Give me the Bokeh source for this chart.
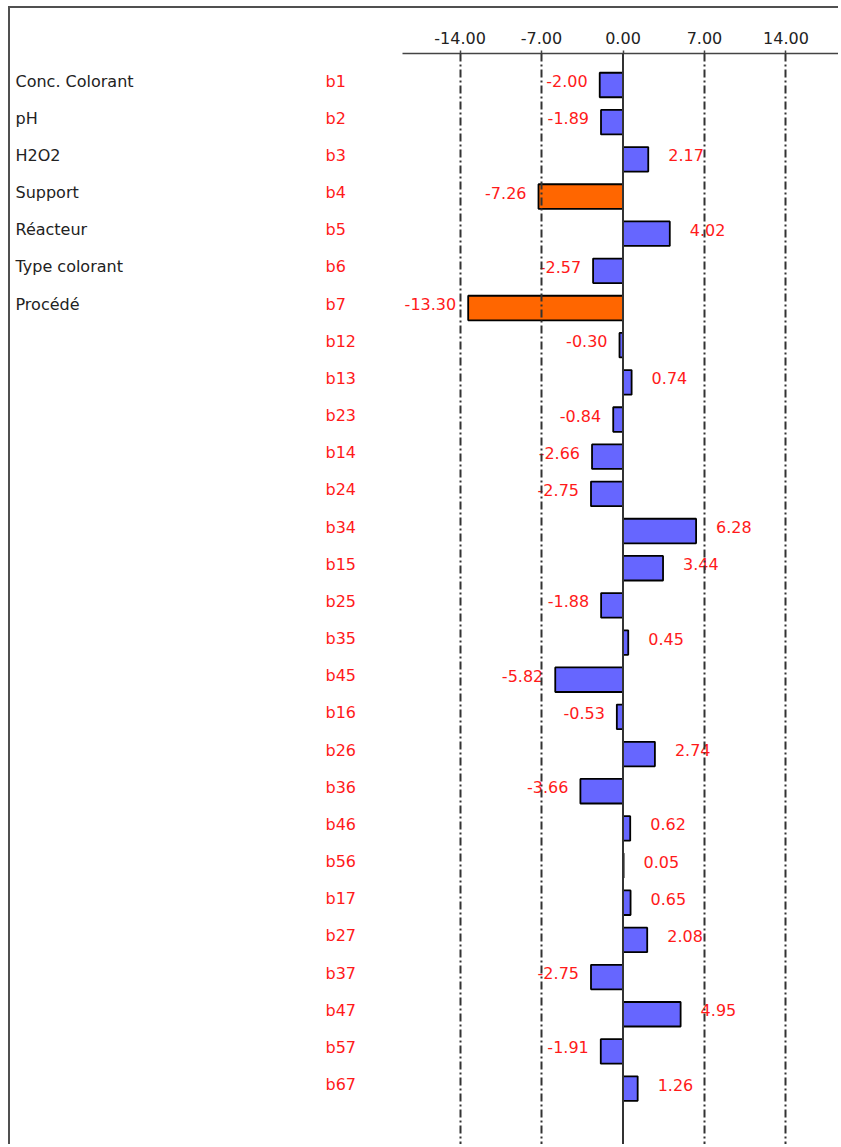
from bokeh.plotting import figure
from bokeh.models import Range1d, FixedTicker, PrintfTickFormatter, Span, ColumnDataSource
from bokeh.embed import file_html
from bokeh.resources import INLINE
from bokeh.core.properties import value

# ---------------- data ----------------
factor_names = ["Conc. Colorant", "pH", "H2O2", "Support", "Réacteur",
                "Type colorant", "Procédé"]
coef_names = ["b1", "b2", "b3", "b4", "b5", "b6", "b7",
              "b12", "b13", "b23", "b14", "b24", "b34", "b15", "b25", "b35",
              "b45", "b16", "b26", "b36", "b46", "b56", "b17", "b27", "b37",
              "b47", "b57", "b67"]
effects = [-2.00, -1.89, 2.17, -7.26, 4.02, -2.57, -13.30,
           -0.30, 0.74, -0.84, -2.66, -2.75, 6.28, 3.44, -1.88, 0.45,
           -5.82, -0.53, 2.74, -3.66, 0.62, 0.05, 0.65, 2.08, -2.75,
           4.95, -1.91, 1.26]
significant = ["b4", "b7"]
tick_values = [-14, -7, 0, 7, 14]
grid_values = [-14, -7, 7, 14]

# ---------------- layout constants ----------------
W, H = 830, 1138          # figure size
X0, Y0 = 10, 8            # page offset of figure content (margin + border)
AXIS_Y = 53               # page y of the axis line
ZERO_X = 622.5            # page x of value 0
PX_PER_UNIT = 11.64
ROW0_Y = 84.5             # page y of first row centre
ROW_STEP = 37.17
AXIS_LEFT_X = 402
NAME_X = 15
COEF_X = 325

x_start = (X0 - ZERO_X) / PX_PER_UNIT
x_end = (X0 + W - ZERO_X) / PX_PER_UNIT
y_bottom = (Y0 + H - ROW0_Y) / ROW_STEP
y_top = (AXIS_Y - ROW0_Y) / ROW_STEP

BLUE = "#6666ff"
ORANGE = "#ff6600"
RED = "#ff1a1a"
DARK = "#222222"
FONT = value("DejaVu Sans")
FS = "16px"

rows = list(range(len(coef_names)))
src = ColumnDataSource(dict(
    row=rows,
    effect=effects,
    color=[ORANGE if c in significant else BLUE for c in coef_names],
    label=["%.2f" % v for v in effects],
    align=["right" if v < 0 else "left" for v in effects],
    xoff=[-12 if v < 0 else 20 for v in effects],
))

p = figure(width=W, height=H,
           x_range=Range1d(x_start, x_end),
           y_range=Range1d(y_bottom, y_top),
           output_backend="svg", toolbar_location=None,
           x_axis_location="above", y_axis_location=None,
           min_border_left=0, min_border_right=0, min_border_bottom=0,
           min_border_top=AXIS_Y - Y0)
p.extra_x_ranges = {"px": Range1d(0, W)}
p.styles = {"border-left": "2px solid #505050", "border-top": "2px solid #505050",
            "margin-left": "8px", "margin-top": "6px"}
p.outline_line_color = None
p.background_fill_color = "white"
p.border_fill_color = "white"

ax = p.xaxis[0]
ax.ticker = FixedTicker(ticks=tick_values)
ax.formatter = PrintfTickFormatter(format="%.2f")
ax.bounds = ((AXIS_LEFT_X - ZERO_X) / PX_PER_UNIT, x_end)
ax.axis_line_color = "#444444"
ax.axis_line_width = 1.5
ax.major_tick_line_color = "#444444"
ax.major_tick_line_width = 1.5
ax.major_tick_out = 3
ax.major_tick_in = 0
ax.minor_tick_out = 0
ax.minor_tick_in = 0
ax.major_label_standoff = 7
ax.major_label_text_font = "DejaVu Sans"
ax.major_label_text_font_size = FS
ax.major_label_text_color = DARK

p.ygrid.visible = False
p.xgrid.ticker = FixedTicker(ticks=grid_values)
p.xgrid.grid_line_color = "#333333"
p.xgrid.grid_line_width = 2
p.xgrid.grid_line_dash = "8 3 2 3"
p.xgrid.level = "overlay"

p.hbar(y="row", left=0, right="effect", height=0.66, fill_color="color",
       line_color="black", line_width=1.8, source=src)

p.add_layout(Span(location=0, dimension="height", line_color="#333333",
                  line_width=2))

p.text(x=[NAME_X - X0] * len(factor_names), y=rows[:len(factor_names)],
       text=factor_names, x_range_name="px", text_font=FONT,
       text_font_size=FS, text_color=DARK, text_baseline="middle",
       y_offset=-4)
p.text(x=[COEF_X - X0] * len(coef_names), y=rows, text=coef_names,
       x_range_name="px", text_font=FONT, text_font_size=FS,
       text_color=RED, text_baseline="middle", y_offset=-4)
p.text(x="effect", y="row", text="label", source=src, text_font=FONT,
       text_font_size=FS, text_color=RED, text_baseline="middle",
       text_align="align", x_offset="xoff", y_offset=-4)

open("out.html", "w").write(file_html(p, INLINE))
